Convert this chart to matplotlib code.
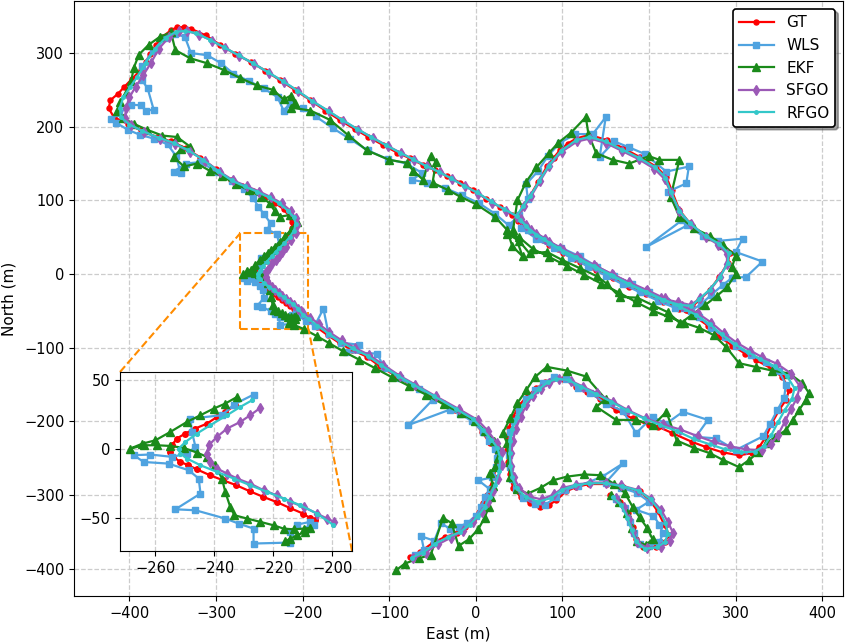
import matplotlib
matplotlib.use("Agg")
import matplotlib.pyplot as plt
from mpl_toolkits.axes_grid1.inset_locator import mark_inset

# ---------------- data (East, North) in metres ----------------
# each series: part before the zoomed window, the zoomed window, part after
gt_a = [(-76,-384),(-64,-377),(-50,-365),(-36,-357),(-22,-352),(-12,-343),(-3,-334),(4,-323),(8,-311),
        (13,-300),(16,-290),(21,-275),(24,-255),(23,-239),(16,-229),(7,-214),(-4,-198),(-24,-185),(-50,-167),
        (-74,-151),(-91,-139),(-111,-125),(-126,-112),(-143,-103),(-157,-94),(-171,-83),(-184,-72),(-195,-62)]
gt_z = [(-205.9,-52.0),(-207.6,-50.3),(-209.9,-47.1),(-214.4,-43.0),(-218.9,-38.7),(-223.4,-35.0),(-228.0,-30.9),
        (-232.5,-26.6),(-237.0,-23.0),(-241.5,-19.3),(-246.0,-15.0),(-248.8,-12.1),(-251.6,-9.6),(-253.9,-6.0),
        (-255.0,-2.4),(-254.4,2.5),(-252.7,7.3),(-249.9,10.9),(-246.5,14.5),(-242.5,18.1),(-239.1,22.9),
        (-236.3,26.5),(-232.9,31.4)]
gt_b = [(-228,38),(-222,45),(-216,53),(-212,62),(-212,70),(-215,78),(-222,88),(-232,97),(-243,105),(-257,113),
        (-270,120),(-283,128),(-300,142),(-318,158),(-335,171),(-352,180),(-368,186),(-387,195),(-402,204),
        (-418,213),(-424,225),(-422,236),(-413,245),(-406,254),(-397,265),(-387,277),(-381,288),(-376,299),
        (-369,311),(-362,322),(-352,331),(-345,335),(-337,335),(-329,333),(-312,324),(-295,311),(-278,299),
        (-260,288),(-243,276),(-226,263),(-209,250),(-191,236),(-174,222),(-157,209),(-140,197),(-124,186),
        (-107,175),(-91,165),(-76,157),(-61,148),(-47,141),(-33,133),(-18,124),(-3,114),(12,102),(28,91),
        (42,80),(49,75),(55,92),(62,105),(72,125),(82,146),(90,158),(97,168),(106,177),(116,184),(131,189),
        (151,182),(170,171),(189,159),(208,146),(220,132),(226,114),(235,87),(247,69),(266,51),(281,42),
        (293,28),(291,15),(281,-4),(270,-22),(258,-35),(250,-44),(243,-49),(230,-43),(216,-38),(197,-27),
        (177,-17),(158,-6),(139,5),(120,17),(101,28),(85,40),(70,51),(58,63),(49,72),(62,58),(78,46),(95,34),
        (115,21),(135,9),(155,-3),(175,-15),(196,-26),(216,-37),(235,-47),(252,-57),(268,-70),(281,-85),
        (296,-97),(311,-108),(324,-117),(341,-128),(354,-140),(362,-157),(358,-171),(350,-185),(342,-202),
        (335,-221),(327,-235),(319,-243),(304,-246),(285,-242),(266,-235),(250,-228),(227,-216),(210,-207),
        (200,-205),(181,-196),(162,-185),(143,-169),(128,-160),(116,-153),(101,-142),(90,-141),(80,-147),
        (70,-155),(60,-165),(50,-178),(43,-194),(38,-209),(36,-221),(36,-239),(37,-255),(39,-272),(43,-290),
        (52,-303),(63,-311),(74,-316),(85,-313),(93,-307),(104,-295),(116,-289),(131,-285),(151,-285),
        (170,-289),(189,-295),(201,-307),(210,-322),(218,-341),(223,-354),(218,-364),(208,-370),(193,-370),
        (185,-359),(181,-343),(176,-325),(166,-309),(155,-300)]

wls_a = [(-70,-381),(-60,-374),(-63,-356),(-48,-362),(-40,-338),(-30,-346),(-20,-343),(-10,-338),(0,-328),
         (6,-316),(10,-303),(16,-292),(3,-280),(19,-276),(23,-262),(25,-250),(22,-238),(15,-226),(8,-214),
         (-4,-200),(-18,-190),(-30,-184),(-78,-205),(-50,-171),(-66,-156),(-88,-141),(-106,-127),(-114,-108),
         (-150,-106),(-135,-96),(-156,-93),(-170,-82),(-176,-47),(-186,-70),(-196,-64)]
wls_z = [(-206.3,-55.6),(-208.6,-58.0),(-207.5,-53.1),(-212.0,-55.1),(-214.2,-60.4),(-214.2,-68.1),(-226.7,-68.8),
         (-226.7,-58.0),(-231.8,-54.3),(-236.3,-50.7),(-246.4,-44.7),(-253.2,-44.0),(-244.7,-32.6),(-245.3,-21.7),
         (-248.7,-15.7),(-255.5,-10.9),(-264.0,-9.7),(-267.3,-4.8),(-261.7,-4.3),(-254.4,-6.0),(-249.3,-3.6),
         (-246.4,1.2),(-247.6,12.1),(-248.1,21.7),(-237.4,24.2),(-233.4,31.9),(-226.7,39.1)]
wls_b = [(-230,55),(-241,60),(-237,69),(-245,82),(-251,91),(-257,103),(-268,115),(-282,126),(-298,138),
         (-318,152),(-335,150),(-349,139),(-341,137),(-346,160),(-356,176),(-372,184),(-388,189),(-402,196),
         (-415,205),(-421,210),(-412,218),(-398,230),(-387,229),(-381,222),(-372,223),(-379,252),(-386,264),
         (-385,282),(-373,303),(-360,320),(-347,326),(-336,322),(-329,300),(-310,297),(-294,286),(-280,272),
         (-262,262),(-245,252),(-229,240),(-222,222),(-215,231),(-200,225),(-185,214),(-165,198),(-145,183),
         (-125,168),(-102,156),(-80,150),(-62,137),(-74,128),(-56,124),(-36,117),(-16,107),(4,96),(22,82),
         (38,66),(50,80),(60,102),(58,122),(72,140),(83,160),(97,178),(115,190),(135,190),(150,213),(143,159),
         (160,180),(177,172),(195,163),(220,139),(246,146),(243,123),(222,112),(238,73),(197,37),(244,66),
         (262,52),(280,45),(308,48),(300,30),(331,17),(312,-4),(296,-5),(285,-15),(272,-28),(260,-41),
         (248,-50),(230,-46),(210,-36),(190,-25),(170,-14),(150,-2),(130,10),(110,22),(90,35),(70,48),
         (52,63),(60,60),(77,47),(98,36),(120,24),(140,10),(160,-2),(180,-14),(200,-25),(220,-36),(240,-46),
         (258,-58),(272,-73),(288,-86),(300,-98),(318,-110),(335,-120),(350,-132),(358,-150),(356,-168),
         (348,-185),(340,-203),(332,-220),(300,-239),(277,-223),(254,-221),(268,-198),(239,-187),(220,-203),
         (204,-194),(185,-216),(170,-186),(150,-176),(132,-161),(118,-154),(104,-143),(90,-140),(78,-148),
         (68,-158),(58,-170),(50,-185),(44,-200),(40,-215),(38,-230),(38,-246),(39,-262),(42,-278),(46,-292),
         (55,-304),(68,-312),(80,-313),(93,-303),(103,-293),(118,-288),(146,-275),(170,-257),(150,-283),
         (168,-290),(186,-297),(200,-309),(185,-320),(205,-328),(212,-340),(216,-352),(212,-364),(200,-369),
         (190,-366),(183,-352),(178,-336),(172,-318),(162,-306)]

ekf_a = [(-92,-402),(-82,-393),(-66,-386),(-52,-381),(-38,-331),(-28,-338),(-20,-369),(-8,-360),(3,-346),
         (10,-331),(15,-316),(18,-302),(20,-288),(16,-270),(22,-262),(26,-250),(27,-238),(21,-226),(11,-213),
         (-1,-200),(-17,-189),(-37,-177),(-57,-164),(-77,-152),(-97,-140),(-116,-128),(-135,-116),(-153,-105),
         (-169,-94),(-184,-84),(-198,-75),(-210,-69)]
ekf_z = [(-215.9,-67.1),(-214.2,-65.2),(-212.0,-62.8),(-209.2,-60.4),(-207.5,-57.5),(-209.7,-58.0),
         (-213.1,-58.5),(-216.5,-58.0),(-219.9,-55.6),(-224.4,-53.1),(-228.9,-50.7),(-233.2,-48.3),
         (-234.6,-42.3),(-236.3,-31.4),(-237.4,-21.7),(-239.7,-12.1),(-242.5,-6.0),(-245.9,-2.9),(-250.4,0.5),
         (-254.9,1.9),(-259.4,2.4),(-264.0,2.4),(-268.5,0.0),(-264.5,3.5),(-260.0,6.0),(-254.9,12.1),
         (-249.3,19.3),(-244.7,24.2),(-240.2,29.0),(-236.3,32.6),(-232.3,37.4)]
ekf_b = [(-226,44),(-220,52),(-213,60),(-207,71),(-215,80),(-226,78),(-232,85),(-238,96),(-248,105),
         (-262,114),(-277,122),(-293,133),(-307,140),(-322,150),(-337,146),(-349,159),(-340,170),(-330,173),
         (-345,186),(-362,188),(-380,196),(-395,204),(-408,212),(-414,221),(-411,233),(-404,246),(-398,262),
         (-395,280),(-389,298),(-378,311),(-365,322),(-352,328),(-347,304),(-330,293),(-310,286),(-291,277),
         (-272,266),(-253,256),(-234,250),(-222,237),(-214,242),(-209,232),(-214,226),(-191,222),(-168,209),
         (-148,189),(-126,168),(-100,155),(-80,151),(-72,140),(-61,128),(-55,150),(-52,160),(-46,152),
         (-50,124),(-32,114),(-18,105),(0,95),(22,78),(36,60),(42,38),(54,24),(43,60),(48,100),(58,125),
         (70,145),(85,165),(95,178),(110,192),(127,213),(130,190),(139,164),(158,155),(177,150),(200,160),
         (212,155),(235,155),(225,105),(235,78),(252,62),(270,52),(285,40),(300,25),(296,10),(300,0),
         (290,-18),(278,-30),(265,-42),(250,-55),(236,-67),(222,-52),(204,-42),(186,-32),(166,-31),(151,-13),
         (140,-3),(120,8),(100,19),(82,30),(62,28),(50,45),(36,55),(50,50),(66,34),(85,23),(105,11),(125,-1),
         (145,-13),(165,-25),(185,-38),(205,-50),(222,-58),(240,-66),(258,-73),(275,-83),(289,-99),(304,-121),
         (323,-126),(342,-131),(362,-135),(377,-148),(385,-162),(381,-171),(373,-185),(366,-198),(358,-212),
         (346,-221),(335,-230),(326,-242),(316,-252),(304,-262),(285,-252),(270,-243),(252,-236),(232,-226),
         (220,-187),(205,-205),(185,-198),(162,-198),(139,-180),(150,-170),(127,-139),(105,-131),(82,-126),
         (68,-140),(58,-158),(48,-175),(40,-195),(31,-216),(36,-229),(38,-255),(40,-275),(48,-292),(60,-298),
         (75,-290),(89,-280),(105,-275),(125,-272),(143,-273),(160,-285),(172,-297),(181,-316),(189,-330),
         (198,-345),(204,-360),(196,-368),(186,-362),(180,-345),(174,-325),(165,-310),(156,-300)]

sfgo_a = [(-72,-386),(-58,-378),(-44,-367),(-29,-358),(-15,-349),(-3,-337),(7,-323),(14,-309),(20,-294),
          (26,-278),(30,-259),(30,-241),(24,-229),(14,-213),(2,-198),(-20,-183),(-46,-166),(-70,-150),
          (-88,-138),(-107,-123),(-123,-110),(-140,-100),(-155,-90),(-169,-79),(-181,-68),(-191,-59)]
sfgo_z = [(-199.3,-53.1),(-201.8,-50.7),(-205.2,-47.1),(-209.7,-42.3),(-214.2,-38.6),(-218.8,-33.8),
          (-223.3,-30.2),(-227.8,-25.4),(-232.3,-21.7),(-235.7,-18.1),(-239.1,-14.5),(-241.4,-9.7),
          (-242.5,-3.6),(-241.9,2.4),(-239.1,8.5),(-235.7,14.5),(-231.2,19.3),(-227.8,24.2),(-224.4,29.5)]
sfgo_b = [(-219,37),(-213,46),(-208,56),(-206,66),(-208,76),(-214,86),(-224,96),(-236,104),(-250,112),
          (-264,119),(-280,127),(-296,139),(-313,154),(-330,166),(-347,176),(-365,184),(-383,193),(-398,202),
          (-405,212),(-404,226),(-400,240),(-393,254),(-384,270),(-375,287),(-366,306),(-354,322),(-343,330),
          (-333,330),(-320,325),(-305,317),(-290,307),(-273,296),(-256,285),(-239,273),(-222,261),(-205,248),
          (-188,234),(-170,221),(-153,208),(-136,196),(-119,185),(-102,174),(-86,164),(-71,155),(-56,146),
          (-41,138),(-27,129),(-12,119),(3,109),(19,97),(35,86),(48,78),(56,92),(64,106),(74,126),(85,147),
          (99,166),(117,180),(132,184),(150,178),(169,167),(188,156),(206,143),(218,129),(225,111),(235,85),
          (248,68),(266,50),(280,40),(290,27),(290,14),(282,-4),(271,-21),(259,-33),(248,-42),(233,-38),
          (214,-33),(196,-23),(177,-12),(158,-1),(139,10),(120,21),(101,32),(85,43),(70,55),(58,67),(52,75),
          (64,60),(80,48),(97,36),(117,24),(137,12),(157,0),(177,-11),(198,-22),(218,-33),(238,-43),(256,-53),
          (272,-66),(286,-80),(301,-93),(317,-104),(331,-113),(348,-122),(364,-135),(374,-152),(371,-168),
          (364,-183),(357,-200),(349,-218),(341,-231),(330,-239),(312,-238),(294,-234),(275,-228),(256,-220),
          (236,-211),(216,-204),(196,-196),(176,-185),(158,-173),(140,-162),(124,-153),(110,-145),(96,-143),
          (85,-148),(75,-156),(66,-166),(58,-178),(52,-194),(46,-210),(43,-226),(41,-243),(41,-260),(44,-276),
          (50,-290),(62,-302),(76,-306),(90,-299),(101,-290),(116,-286),(132,-283),(150,-283),(168,-287),
          (187,-293),(202,-305),(214,-320),(222,-337),(228,-352),(224,-363),(214,-370),(198,-372),(186,-364),
          (182,-350),(177,-333),(171,-316),(162,-304)]

rfgo_a = [(-74,-385),(-61,-378),(-47,-366),(-32,-357),(-18,-350),(-7,-340),(2,-329),(10,-316),(16,-302),
          (22,-287),(27,-268),(28,-250),(25,-236),(18,-225),(8,-211),(-3,-197),(-23,-183),(-48,-166),
          (-72,-150),(-90,-138),(-109,-124),(-125,-111),(-142,-101),(-156,-92),(-170,-81),(-183,-70),(-193,-61)]
rfgo_z = [(-199.8,-55.1),(-205.2,-47.1),(-210.8,-41.1),(-216.5,-36.2),(-222.1,-31.4),(-227.8,-26.6),
          (-233.4,-21.7),(-239.1,-16.9),(-244.7,-12.1),(-249.3,-7.2),(-251.5,-3.6),(-252.1,0.0),(-249.8,4.8),
          (-245.9,10.9),(-241.4,16.9),(-235.7,24.2),(-231.2,30.2),(-227.2,35.0)]
rfgo_b = [(-221,42),(-215,50),(-210,59),(-208,68),(-210,77),(-217,86),(-227,96),(-239,104),(-253,112),
          (-267,119),(-282,127),(-298,140),(-315,155),(-332,168),(-349,178),(-366,185),(-385,194),(-400,203),
          (-410,213),(-411,226),(-407,240),(-399,254),(-391,268),(-381,287),(-370,306),(-358,321),(-346,329),
          (-336,330),(-323,327),(-307,318),(-291,308),(-274,297),(-257,286),(-240,274),(-223,262),(-206,249),
          (-189,235),(-171,222),(-154,209),(-137,197),(-121,186),(-104,175),(-88,165),(-73,156),(-58,147),
          (-43,139),(-29,130),(-14,120),(1,111),(17,99),(33,88),(47,79),(55,93),(63,106),(73,126),(84,147),
          (98,167),(116,182),(131,186),(150,180),(169,169),(188,158),(207,145),(219,131),(225,112),(235,86),
          (247,69),(266,51),(281,41),(292,28),(291,15),(282,-4),(270,-21),(258,-34),(249,-43),(236,-42),
          (215,-35),(196,-25),(177,-14),(158,-3),(139,8),(120,19),(101,30),(85,42),(70,53),(58,65),(51,74),
          (63,59),(79,47),(96,35),(116,23),(136,11),(156,-1),(176,-13),(197,-24),(217,-35),(236,-45),(254,-55),
          (270,-68),(284,-82),(299,-95),(314,-106),(328,-115),(345,-125),(359,-138),(368,-155),(365,-170),
          (357,-184),(349,-201),(341,-219),(333,-233),(322,-241),(306,-242),(288,-238),(270,-231),(252,-224),
          (232,-213),(213,-205),(194,-196),(174,-185),(156,-173),(139,-163),(122,-153),(107,-144),(93,-142),
          (83,-147),(73,-156),(64,-166),(55,-178),(48,-194),(42,-210),(40,-226),(39,-243),(40,-260),(42,-276),
          (47,-291),(58,-303),(72,-309),(87,-304),(99,-293),(114,-287),(131,-284),(150,-284),(169,-288),
          (188,-294),(202,-306),(212,-321),(219,-338),(222,-353),(218,-364),(209,-371),(195,-373),(185,-363),
          (180,-348),(175,-331),(168,-314),(158,-303)]

labels = ["GT", "WLS", "EKF", "SFGO", "RFGO"]
series = [(gt_a, gt_z, gt_b), (wls_a, wls_z, wls_b), (ekf_a, ekf_z, ekf_b),
          (sfgo_a, sfgo_z, sfgo_b), (rfgo_a, rfgo_z, rfgo_b)]

# ---------------- styles ----------------
colors = ["#ff0000", "#4fa3e0", "#1a8a1a", "#9b59b6", "#33c7c9"]
markers = ["o", "s", "^", "d", "."]
msizes = [3.6, 4.2, 5.2, 4.8, 5.0]


def xy(pts):
    return [p[0] for p in pts], [p[1] for p in pts]


fig = plt.figure(figsize=(8.47, 6.43), dpi=100)
ax = fig.add_axes([0.0874, 0.0731, 0.9079, 0.9246])

for lab, parts, c, m, ms in zip(labels, series, colors, markers, msizes):
    full = parts[0] + parts[1] + parts[2]
    x, y = xy(full)
    ax.plot(x, y, color=c, marker=m, markersize=ms, linewidth=1.6, label=lab)

ax.set_xlim(-464, 424)
ax.set_ylim(-437, 370)
ax.tick_params(labelsize=10.5)
ax.set_xlabel("East (m)", fontsize=11, labelpad=4)
ax.set_ylabel("North (m)", fontsize=11, labelpad=5)
ax.grid(True, linestyle="--", color="#cccccc", linewidth=0.9)
leg = ax.legend(loc="upper right", fontsize=11, frameon=True, shadow=True,
                fancybox=True, framealpha=1.0, edgecolor="black", handlelength=2.3)
leg.get_frame().set_linewidth(1.2)

# ---------------- inset ----------------
axins = fig.add_axes([0.1417, 0.1431, 0.2739, 0.2784])
for parts, c, m, ms in zip(series, colors, markers, msizes):
    x, y = xy(parts[1])
    axins.plot(x, y, color=c, marker=m, markersize=ms + 0.4, linewidth=1.6)
axins.set_xlim(-272, -193.3)
axins.set_ylim(-74.2, 55.5)
axins.set_xticks([-260, -240, -220, -200])
axins.set_yticks([50, 0, -50])
axins.tick_params(labelsize=10.5)
axins.grid(True, linestyle="--", color="#cccccc", linewidth=0.9)

mark_inset(ax, axins, loc1=2, loc2=4, fc="none", ec="darkorange", ls="--", lw=1.5)

fig.savefig("out.png", dpi=100)
